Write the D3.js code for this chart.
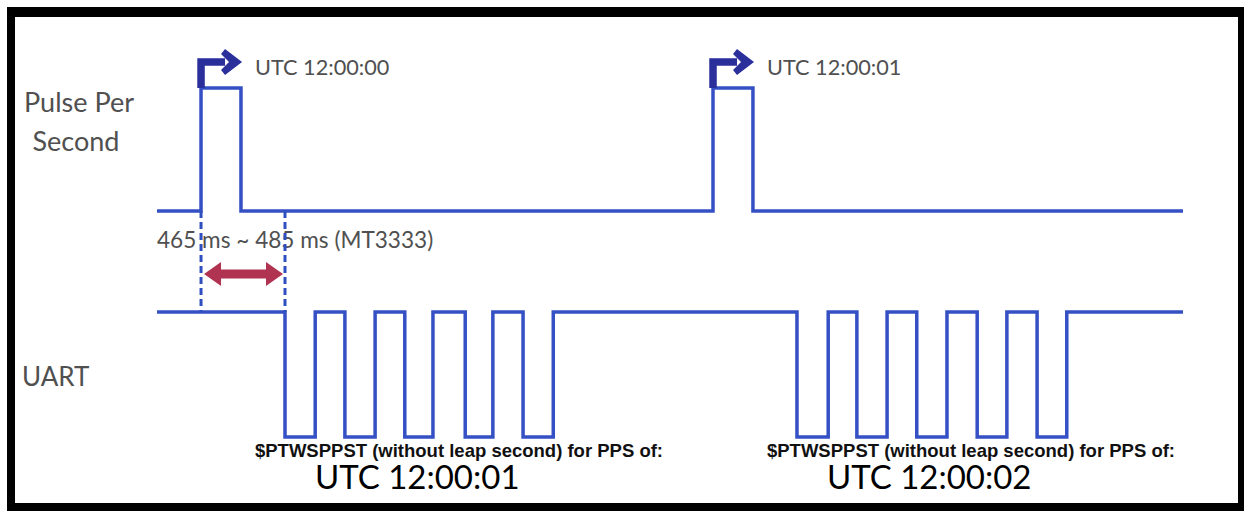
<!DOCTYPE html>
<html><head><meta charset="utf-8">
<script src="https://cdn.jsdelivr.net/npm/d3@7"></script>
<style>html,body{margin:0;padding:0;background:#fff}svg{display:block}</style>
</head><body>
<svg id="c" width="1244" height="511"></svg>
<script>
// ---- data (time in ms, PPS rising edge of 12:00:00 = 0) ----
const timeDomain = [-86, 1918];
const ppsRises = [0, 1000];
const ppsLabels = ["UTC 12:00:00", "UTC 12:00:01"];
const ppsWidth = 78;
const uartEdges1 = [164, 223, 281, 340, 398, 453, 516, 570, 629, 688];
const uartEdges2 = [1164, 1225, 1281, 1340, 1398, 1457, 1516, 1574, 1633, 1691];
const uartCaptions = ["$PTWSPPST (without leap second) for PPS of:", "$PTWSPPST (without leap second) for PPS of:"];
const uartTimes = ["UTC 12:00:01", "UTC 12:00:02"];
const delayLabel = "465 ms ~ 485 ms (MT3333)";
const delayRange = [0, 164];
const signalNames = ["Pulse Per", "Second", "UART"];

const svg = d3.select("#c");
const x = d3.scaleLinear().domain(timeDomain).range([157, 1183]);
const yPPS = d3.scaleLinear().domain([0, 1]).range([211, 88]);
const yU = d3.scaleLinear().domain([0, 1]).range([437, 312]);

// frame
svg.append("rect").attr("x", 7).attr("y", 7).attr("width", 1237).attr("height", 504).attr("fill", "#000");
svg.append("rect").attr("x", 15).attr("y", 17).attr("width", 1223).attr("height", 486).attr("fill", "#fff");

const blue = "#3550c4";
const font = "Lato, 'Open Sans', sans-serif";

// signal names
svg.append("text").attr("x", 79).attr("y", 112).attr("text-anchor", "middle").attr("font-family", font).attr("font-size", 27).attr("fill", "#505050").text(signalNames[0]);
svg.append("text").attr("x", 76).attr("y", 151).attr("text-anchor", "middle").attr("font-family", font).attr("font-size", 27).attr("fill", "#505050").text(signalNames[1]);
svg.append("text").attr("x", 22).attr("y", 386).attr("font-family", font).attr("font-size", 26).attr("fill", "#505050").text(signalNames[2]);

// delay label
svg.append("text").attr("x", 157).attr("y", 248).attr("font-family", font).attr("font-size", 22.6).attr("fill", "#505050").text(delayLabel);

// PPS waveform
const ppsPts = [[timeDomain[0], 0]];
ppsRises.forEach(t => { ppsPts.push([t, 0], [t, 1], [t + ppsWidth, 1], [t + ppsWidth, 0]); });
ppsPts.push([timeDomain[1], 0]);
const line = (ys) => d3.line().x(d => x(d[0])).y(d => ys(d[1]));
svg.append("path").attr("d", line(yPPS)(ppsPts)).attr("fill", "none").attr("stroke", blue).attr("stroke-width", 3.5);

// UART waveform
const uPts = [[timeDomain[0], 1]];
[uartEdges1, uartEdges2].forEach(edges => {
  edges.forEach((t, i) => { const from = i % 2 === 0 ? 1 : 0; uPts.push([t, from], [t, 1 - from]); });
});
uPts.push([timeDomain[1], 1]);
svg.append("path").attr("d", line(yU)(uPts)).attr("fill", "none").attr("stroke", blue).attr("stroke-width", 3.5);

// dashed markers
delayRange.forEach(t => {
  svg.append("line").attr("x1", x(t)).attr("x2", x(t)).attr("y1", yPPS(0)).attr("y2", yU(1))
    .attr("stroke", "#2f4fc0").attr("stroke-width", 3).attr("stroke-dasharray", "7,4");
});

// double arrow
const ay = 274, ax0 = x(delayRange[0]) + 3, ax1 = x(delayRange[1]) - 2;
svg.append("path").attr("fill", "#b03452")
  .attr("d", `M${ax0},${ay} L${ax0 + 17},${ay - 12} L${ax0 + 17},${ay - 4.5} L${ax1 - 17},${ay - 4.5} L${ax1 - 17},${ay - 12} L${ax1},${ay} L${ax1 - 17},${ay + 12} L${ax1 - 17},${ay + 4.5} L${ax0 + 17},${ay + 4.5} L${ax0 + 17},${ay + 12} Z`);

// bent arrows + PPS labels
ppsRises.forEach((t, i) => {
  const px = x(t), top = 62;
  svg.append("path").attr("d", `M${px},${yPPS(1)} L${px},${top} L${px + 24},${top}`)
    .attr("fill", "none").attr("stroke", "#2a2f9c").attr("stroke-width", 7.5).attr("stroke-linejoin", "miter");
  svg.append("path").attr("fill", "#2a2f9c")
    .attr("d", `M${px + 41},${top} L${px + 24},${top - 13} L${px + 20},${top - 8} L${px + 28},${top} L${px + 20},${top + 8} L${px + 24},${top + 13} Z`);
  svg.append("text").attr("x", px + 54).attr("y", 75).attr("font-family", font).attr("font-size", 21.7).attr("fill", "#505050").text(ppsLabels[i]);
});

// UART captions
[uartEdges1, uartEdges2].forEach((edges, i) => {
  const cx = x(edges[0]);
  svg.append("text").attr("x", cx - 30).attr("y", 457).attr("font-family", "'Liberation Sans', Arial, sans-serif").attr("font-weight", "bold").attr("font-size", 18.5).attr("fill", "#111").text(uartCaptions[i]);
  svg.append("text").attr("x", cx + 30).attr("y", 489).attr("font-family", font).attr("font-size", 33).attr("fill", "#000").text(uartTimes[i]);
});
</script>
</body></html>
